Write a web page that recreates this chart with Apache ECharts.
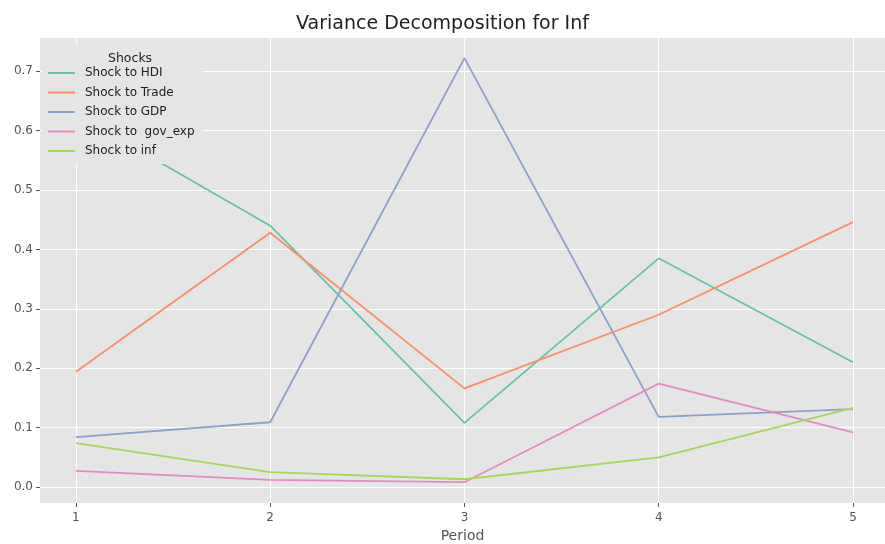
<!DOCTYPE html>
<html>
<head>
<meta charset="utf-8">
<script src="https://cdn.jsdelivr.net/npm/echarts@6/dist/echarts.min.js"></script>
<style>html,body{margin:0;padding:0;background:#fff}#c{width:885px;height:544px}</style>
</head>
<body>
<div id="c"></div>
<script>
const periods = [1, 2, 3, 4, 5];
const seriesNames = ['Shock to HDI', 'Shock to Trade', 'Shock to GDP', 'Shock to  gov_exp', 'Shock to inf'];
const hdi = [0.628, 0.44, 0.108, 0.385, 0.21];
const trade = [0.194, 0.428, 0.166, 0.29, 0.446];
const gdp = [0.084, 0.109, 0.722, 0.118, 0.131];
const govExp = [0.027, 0.012, 0.008, 0.174, 0.092];
const inf = [0.074, 0.025, 0.013, 0.05, 0.133];
const yTicks = [0, 0.1, 0.2, 0.3, 0.4, 0.5, 0.6, 0.7];
const colors = ['#66c2a5', '#fc8d62', '#8da0cb', '#e78ac3', '#a6d854'];
const allData = [hdi, trade, gdp, govExp, inf];

const chart = echarts.init(document.getElementById('c'));
const font = 'DejaVu Sans';
chart.setOption({
  backgroundColor: '#ffffff',
  animation: false,
  color: colors,
  title: [
    { text: 'Variance Decomposition for Inf', left: 'center', top: 10,
      textStyle: { fontFamily: font, fontSize: 19, fontWeight: 'normal', color: '#222' } },
    { text: 'Shocks', left: 103, top: 47, z: 10,
      textStyle: { fontFamily: font, fontSize: 12.5, fontWeight: 'normal', color: '#222' } }
  ],
  legend: {
    orient: 'vertical', left: 42, top: 44, itemWidth: 27, itemHeight: 2, itemGap: 5.5,
    padding: [22, 8, 6, 6],
    backgroundColor: '#E5E5E5', borderRadius: 3,
    icon: 'rect',
    textStyle: { fontFamily: font, fontSize: 12, color: '#222', lineHeight: 14, padding: [0, 0, 0, 5] },
    data: seriesNames
  },
  grid: { left: 40, right: 0, top: 38, bottom: 41, show: true, backgroundColor: '#E5E5E5', borderWidth: 0,
    containLabel: false, outerBoundsMode: 'none' },
  xAxis: {
    type: 'value', min: 0.815, max: 5.165,
    name: 'Period', nameLocation: 'middle', nameGap: 26,
    nameTextStyle: { fontFamily: font, fontSize: 14, color: '#555' },
    axisLine: { show: false, onZero: false },
    axisTick: { show: true, length: 4, lineStyle: { color: '#555' }, customValues: periods },
    axisLabel: { customValues: periods, fontFamily: font, fontSize: 12, color: '#555', margin: 9 },
    splitLine: { show: true, lineStyle: { color: '#ffffff', width: 1 } }
  },
  yAxis: {
    type: 'value', min: -0.027, max: 0.756,
    axisLine: { show: false, onZero: false },
    axisTick: { show: true, length: 4, lineStyle: { color: '#555' }, customValues: yTicks },
    axisLabel: { customValues: yTicks, fontFamily: font, fontSize: 12, color: '#555', margin: 7,
      formatter: v => v.toFixed(1) },
    splitLine: { show: true, lineStyle: { color: '#ffffff', width: 1 } }
  },
  series: seriesNames.map((n, i) => ({
    name: n, type: 'line', showSymbol: false, symbol: 'none',
    lineStyle: { width: 1.8, color: colors[i] },
    data: periods.map((p, j) => [p, allData[i][j]])
  }))
});
</script>
</body>
</html>
